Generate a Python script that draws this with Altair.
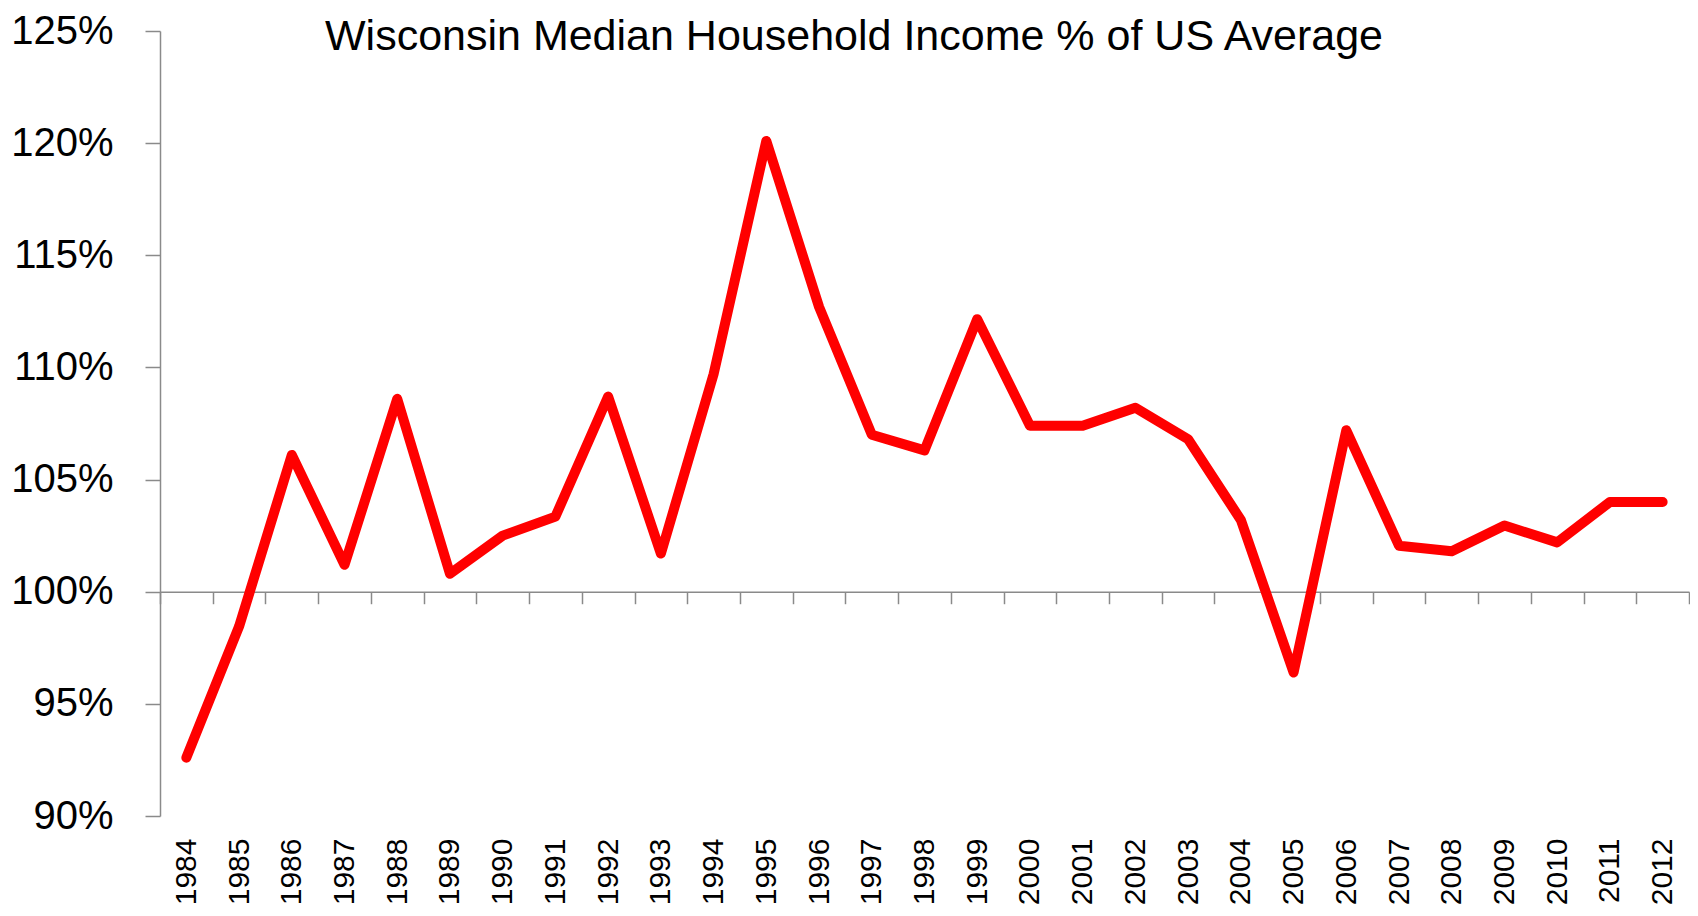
import altair as alt
import pandas as pd

# ---- data ----
years = list(range(1984, 2013))
pct = [92.6, 98.45, 106.1, 101.2, 108.6, 100.8, 102.5, 103.35, 108.7, 101.7,
       109.7, 120.1, 112.7, 107.0, 106.3, 112.15, 107.4, 107.4, 108.2, 106.8,
       103.2, 96.4, 107.2, 102.05, 101.8, 102.95, 102.2, 104.0, 104.0]
y_ticks = [90, 95, 100, 105, 110, 115, 120, 125]
title_text = "Wisconsin Median Household Income % of US Average"

# category boundaries (tick marks on the 100% line sit between years)
boundaries = [y - 0.5 for y in years] + [years[-1] + 0.5]

W, H = 1529, 785
YMIN, YMAX, CROSS = 90, 125, 100
GRAY = "#8a8a8a"
FONT = "Liberation Sans"

df = pd.DataFrame({"year": years, "pct": pct})

xscale = alt.Scale(domain=[boundaries[0], boundaries[-1]], nice=False, zero=False)
yscale = alt.Scale(domain=[YMIN, YMAX], nice=False, zero=False)

y_axis = alt.Axis(values=y_ticks, labelExpr="datum.value + '%'", labelFontSize=40,
                  labelFont=FONT, labelColor="black", labelPadding=32, tickSize=15,
                  tickColor=GRAY, tickWidth=1.5, domainColor=GRAY, domainWidth=1.5,
                  grid=False, title=None, labelFlush=False)

# axis drawn along the 100% line, with ticks between categories
cross_layer = alt.Chart(df).mark_line(opacity=0).encode(
    x=alt.X("year:Q", scale=xscale,
            axis=alt.Axis(values=boundaries, labels=False, tickSize=12, tickColor=GRAY,
                          tickWidth=1.5, domainColor=GRAY, domainWidth=1.5,
                          offset=-(CROSS - YMIN) / (YMAX - YMIN) * H, orient="bottom",
                          grid=False, title=None)),
    y=alt.Y("pct:Q", scale=yscale, axis=y_axis),
)

line = alt.Chart(df).mark_line(color="#FF0000", strokeWidth=10, strokeCap="round",
                               strokeJoin="round").encode(
    x=alt.X("year:Q", scale=xscale,
            axis=alt.Axis(values=years, format="d", labelAngle=270, labelFontSize=30,
                          labelFont=FONT, labelColor="black", labelPadding=22,
                          ticks=False, domain=False, grid=False, title=None,
                          orient="bottom", labelFlush=False, labelOverlap=False)),
    y=alt.Y("pct:Q", scale=yscale, axis=y_axis),
)

chart = alt.layer(cross_layer, line).resolve_axis(x="independent").properties(
    width=W, height=H,
    autosize=alt.AutoSizeParams(type="none"),
    padding={"left": 152, "top": 23, "right": 1, "bottom": 92},
    title=alt.TitleParams(title_text, anchor="start", frame="group", orient="top",
                          fontSize=43, font=FONT, fontWeight="normal", color="black",
                          baseline="alphabetic", offset=0, dx=165, dy=82),
).configure_view(stroke=None)

chart.save("out.html", embed_options={"renderer": "svg", "actions": False})
